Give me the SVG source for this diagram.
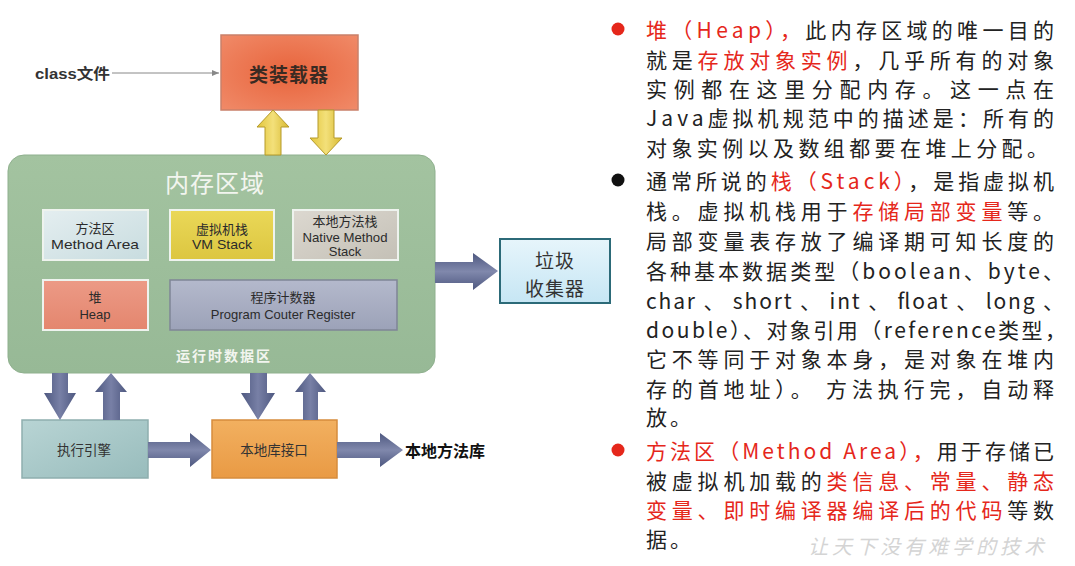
<svg xmlns="http://www.w3.org/2000/svg" width="1075" height="566" viewBox="0 0 1075 566">
<defs>
<style>
.cjk{font-family:"Noto Sans CJK SC","Liberation Sans",sans-serif;}
.lat{font-family:"Liberation Sans","Noto Sans CJK SC",sans-serif;}
.bx{font-family:"Liberation Sans","Noto Sans CJK SC",sans-serif;font-size:13px;fill:#2b2b2b;text-anchor:middle;dominant-baseline:central;}
.rt{font-family:"Noto Sans CJK SC",sans-serif;font-size:21px;fill:#222;dominant-baseline:central;}
.red{fill:#e5271b;}
.ya{fill:url(#gYel);stroke:#b59a2a;stroke-width:1;}
.ba{fill:url(#gBlueV);}
.bh{fill:url(#gBlueH);}
</style>
<linearGradient id="gYel" x1="0" y1="0" x2="1" y2="0"><stop offset="0" stop-color="#e2c53a"/><stop offset="0.5" stop-color="#f3e07a"/><stop offset="1" stop-color="#d8b930"/></linearGradient>
<linearGradient id="gBlueV" x1="0" y1="0" x2="1" y2="0"><stop offset="0" stop-color="#4e5880"/><stop offset="0.5" stop-color="#7880a6"/><stop offset="1" stop-color="#4e5880"/></linearGradient>
<linearGradient id="gBlueH" x1="0" y1="0" x2="0" y2="1"><stop offset="0" stop-color="#4e5880"/><stop offset="0.5" stop-color="#8088ac"/><stop offset="1" stop-color="#4e5880"/></linearGradient>
<radialGradient id="gLoader" cx="0.5" cy="0.5" r="0.7"><stop offset="0" stop-color="#e8643c"/><stop offset="1" stop-color="#f08a68"/></radialGradient>
<linearGradient id="gGreen" x1="0" y1="0" x2="0" y2="1"><stop offset="0" stop-color="#a3c3a0"/><stop offset="1" stop-color="#97b996"/></linearGradient>
<linearGradient id="gMA" x1="0" y1="0" x2="1" y2="1"><stop offset="0" stop-color="#e4eef0"/><stop offset="1" stop-color="#c8dcdf"/></linearGradient>
<linearGradient id="gVM" x1="0" y1="0" x2="0" y2="1"><stop offset="0" stop-color="#ead858"/><stop offset="1" stop-color="#dcc640"/></linearGradient>
<linearGradient id="gNat" x1="0" y1="0" x2="1" y2="1"><stop offset="0" stop-color="#dcd8d0"/><stop offset="1" stop-color="#c4c0b6"/></linearGradient>
<linearGradient id="gHeap" x1="0" y1="0" x2="0" y2="1"><stop offset="0" stop-color="#ec9a86"/><stop offset="1" stop-color="#e4866e"/></linearGradient>
<linearGradient id="gPC" x1="0" y1="0" x2="0" y2="1"><stop offset="0" stop-color="#b4b9cc"/><stop offset="1" stop-color="#9ca2b8"/></linearGradient>
<linearGradient id="gExe" x1="0" y1="0" x2="1" y2="1"><stop offset="0" stop-color="#b8d4d4"/><stop offset="1" stop-color="#98bcbc"/></linearGradient>
<linearGradient id="gNI" x1="0" y1="0" x2="0" y2="1"><stop offset="0" stop-color="#f2b060"/><stop offset="1" stop-color="#e99a44"/></linearGradient>
<linearGradient id="gGC" x1="0" y1="0" x2="0" y2="1"><stop offset="0" stop-color="#e6f5fb"/><stop offset="1" stop-color="#c6e6f4"/></linearGradient>
<marker id="mArr" markerWidth="8" markerHeight="8" refX="7" refY="4" orient="auto" markerUnits="userSpaceOnUse"><path d="M0,1 L7,4 L0,7 Z" fill="#888"/></marker>
</defs>
<rect x="0" y="0" width="1075" height="566" fill="#ffffff"/>

<g id="memory-area">
<rect x="8" y="155" width="427" height="218" rx="16" fill="url(#gGreen)" stroke="#8fb08e" stroke-width="1"/>
<text class="cjk" x="215" y="181" font-size="24" fill="#f2f5ef" text-anchor="middle" dominant-baseline="central" letter-spacing="1">内存区域</text>
<text class="cjk" x="224" y="355" font-size="14" fill="#f2f5ef" text-anchor="middle" dominant-baseline="central" font-weight="bold" letter-spacing="2">运行时数据区</text>
</g>

<g id="method-area">
<rect x="43" y="210" width="105" height="50" fill="url(#gMA)" stroke="#eef3ee" stroke-width="2"/>
<text class="bx" x="95" y="228">方法区</text>
<text class="bx" x="95" y="244" textLength="88" lengthAdjust="spacingAndGlyphs">Method Area</text>
</g>
<g id="vm-stack">
<rect x="170" y="210" width="104" height="50" fill="url(#gVM)" stroke="#eef3ee" stroke-width="2"/>
<text class="bx" x="222" y="229">虚拟机栈</text>
<text class="bx" x="222" y="244" textLength="60" lengthAdjust="spacingAndGlyphs">VM Stack</text>
</g>
<g id="native-method-stack">
<rect x="293" y="210" width="105" height="50" fill="url(#gNat)" stroke="#eef3ee" stroke-width="2"/>
<text class="bx" x="345" y="221">本地方法栈</text>
<text class="bx" x="345" y="237" textLength="85" lengthAdjust="spacingAndGlyphs">Native Method</text>
<text class="bx" x="345" y="251">Stack</text>
</g>
<g id="heap">
<rect x="43" y="280" width="105" height="50" fill="url(#gHeap)" stroke="#eef3ee" stroke-width="2"/>
<text class="bx" x="95" y="297">堆</text>
<text class="bx" x="95" y="314">Heap</text>
</g>
<g id="program-counter">
<rect x="170" y="280" width="227" height="50" fill="url(#gPC)" stroke="#7f8596" stroke-width="1.5"/>
<text class="bx" x="283" y="297">程序计数器</text>
<text class="bx" x="283" y="314">Program Couter Register</text>
</g>

<g id="class-loader">
<rect x="221" y="35" width="137" height="75" fill="url(#gLoader)" stroke="#c9806a" stroke-width="1.5"/>
<text class="cjk" x="289" y="73" font-size="19" font-weight="bold" fill="#3a2a22" text-anchor="middle" dominant-baseline="central" letter-spacing="1">类装载器</text>
</g>

<g id="class-file">
<text class="lat" x="35" y="73" font-size="15" font-weight="bold" fill="#333" dominant-baseline="central" textLength="75" lengthAdjust="spacingAndGlyphs">class文件</text>
</g>

<g id="garbage-collector">
<rect x="500" y="239" width="110" height="64" fill="url(#gGC)" stroke="#2c6a78" stroke-width="2"/>
<text class="cjk" x="555" y="259" font-size="19" fill="#333" text-anchor="middle" dominant-baseline="central" letter-spacing="1">垃圾</text>
<text class="cjk" x="555" y="287" font-size="19" fill="#333" text-anchor="middle" dominant-baseline="central" letter-spacing="1">收集器</text>
</g>

<g id="execution-engine">
<rect x="22" y="420" width="126" height="58" fill="url(#gExe)" stroke="#8eaeae" stroke-width="1.5"/>
<text class="cjk" x="84" y="449" font-size="13.5" fill="#333" text-anchor="middle" dominant-baseline="central">执行引擎</text>
</g>

<g id="native-interface">
<rect x="212" y="420" width="125" height="58" fill="url(#gNI)" stroke="#d68c3c" stroke-width="1.5"/>
<text class="cjk" x="274" y="449" font-size="13.5" fill="#333" text-anchor="middle" dominant-baseline="central">本地库接口</text>
</g>

<g id="native-library">
<text class="cjk" x="405" y="450" font-size="16" font-weight="bold" fill="#111" dominant-baseline="central">本地方法库</text>
</g>

<g id="connectors">
<line x1="112" y1="73" x2="219" y2="73" stroke="#888" stroke-width="1" marker-end="url(#mArr)"/>
<polygon class="ya" points="273,110 289,127 281,127 281,155 265,155 265,127 257,127"/>
<polygon class="ya" points="318,110 334,110 334,138 342,138 326,155 310,138 318,138"/>
<polygon class="bh" points="435,262 473,262 473,253 498,271 473,290 473,283 435,283"/>
<polygon class="ba" points="52,373 68,373 68,393 76,393 60,420 44,393 52,393"/>
<polygon class="ba" points="111,373 127,392 120,392 120,420 103,420 103,392 95,392"/>
<polygon class="ba" points="250,373 267,373 267,393 275,393 258,420 241,393 250,393"/>
<polygon class="ba" points="310,373 326,392 318,392 318,420 303,420 303,392 295,392"/>
<polygon class="bh" points="148,442 190,442 190,433 211,450 190,467 190,458 148,458"/>
<polygon class="bh" points="337,442 380,442 380,433 403,450 380,467 380,458 337,458"/>
</g>

<g id="notes">
<circle cx="618" cy="29" r="6.5" fill="#e5271b"/>
<circle cx="618" cy="180" r="6.5" fill="#111"/>
<circle cx="618" cy="450" r="6.5" fill="#e5271b"/>
<text class="rt" x="646" y="29" textLength="408" lengthAdjust="spacing"><tspan class="red">堆（Heap），</tspan>此内存区域的唯一目的</text>
<text class="rt" x="646" y="59" textLength="408" lengthAdjust="spacing">就是<tspan class="red">存放对象实例</tspan>，几乎所有的对象</text>
<text class="rt" x="646" y="88" textLength="408" lengthAdjust="spacing">实例都在这里分配内存。这一点在</text>
<text class="rt" x="646" y="117" textLength="408" lengthAdjust="spacing">Java虚拟机规范中的描述是：所有的</text>
<text class="rt" x="646" y="147" textLength="402" lengthAdjust="spacing">对象实例以及数组都要在堆上分配。</text>
<text class="rt" x="646" y="180" textLength="408" lengthAdjust="spacing">通常所说的<tspan class="red">栈（Stack）</tspan>，是指虚拟机</text>
<text class="rt" x="646" y="210" textLength="408" lengthAdjust="spacing">栈。虚拟机栈用于<tspan class="red">存储局部变量</tspan>等。</text>
<text class="rt" x="646" y="240" textLength="408" lengthAdjust="spacing">局部变量表存放了编译期可知长度的</text>
<text class="rt" x="646" y="270" textLength="418" lengthAdjust="spacing">各种基本数据类型（boolean、byte、</text>
<text class="rt" x="646" y="300" textLength="418" lengthAdjust="spacing">char 、 short 、 int 、 float 、 long 、</text>
<text class="rt" x="646" y="329" textLength="420" lengthAdjust="spacing">double）、对象引用（reference类型，</text>
<text class="rt" x="646" y="358" textLength="408" lengthAdjust="spacing">它不等同于对象本身，是对象在堆内</text>
<text class="rt" x="646" y="388" textLength="408" lengthAdjust="spacing">存的首地址）。 方法执行完，自动释</text>
<text class="rt" x="646" y="416" letter-spacing="3">放。</text>
<text class="rt" x="646" y="450" textLength="408" lengthAdjust="spacing"><tspan class="red">方法区（Method Area），</tspan>用于存储已</text>
<text class="rt" x="646" y="480" textLength="408" lengthAdjust="spacing">被虚拟机加载的<tspan class="red">类信息、常量、静态</tspan></text>
<text class="rt" x="646" y="509" textLength="408" lengthAdjust="spacing"><tspan class="red">变量、即时编译器编译后的代码</tspan>等数</text>
<text class="rt" x="646" y="538" letter-spacing="3">据。</text>
<text class="cjk" x="808" y="545" font-size="20" fill="#d4d4d4" font-style="italic" dominant-baseline="central" letter-spacing="4">让天下没有难学的技术</text>
</g>
</svg>
